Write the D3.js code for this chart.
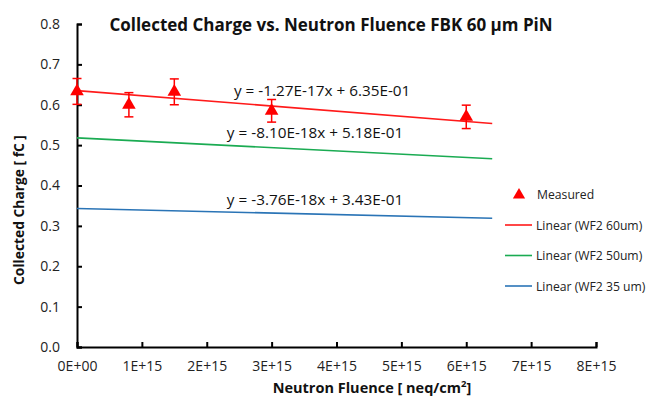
<html>
  <head>
    <meta charset="utf-8">
    <script src="https://cdn.jsdelivr.net/npm/d3@7"></script>
    <style>
      body { margin: 0; background: #fff; }
      text { font-family: "Open Sans", "Liberation Sans", sans-serif; }
    </style>
  </head>
  <body>
    <script>
      var w = 654;
      var h = 401;

      // medidas
      var fluence = [0, 0.8e15, 1.5e15, 3e15, 6e15];
      var charge = [0.633, 0.600, 0.632, 0.585, 0.570];
      var chargeErr = [0.032, 0.030, 0.032, 0.028, 0.029];

      // ajustes lineares
      var fitNames = ["Linear (WF2 60um)", "Linear (WF2 50um)", "Linear (WF2 35 um)"];
      var fitSlope = [-1.27e-17, -8.10e-18, -3.76e-18];
      var fitIntercept = [0.635, 0.518, 0.343];
      var fitLabels = ["y = -1.27E-17x + 6.35E-01", "y = -8.10E-18x + 5.18E-01", "y = -3.76E-18x + 3.43E-01"];
      var fitColors = ["#ff1a1a", "#1aab52", "#2a74b6"];
      var fitEnd = 6.4e15;

      var xTicks = [0, 1e15, 2e15, 3e15, 4e15, 5e15, 6e15, 7e15, 8e15];
      var xTickLabels = ["0E+00", "1E+15", "2E+15", "3E+15", "4E+15", "5E+15", "6E+15", "7E+15", "8E+15"];
      var yTicks = [0, 0.1, 0.2, 0.3, 0.4, 0.5, 0.6, 0.7, 0.8];

      var x = d3.scaleLinear().domain([0, 8e15]).range([77, 596]);
      var y = d3.scaleLinear().domain([0, 0.8]).range([347, 24]);

      var svg = d3.select("body").append("svg")
                  .attr("width", w)
                  .attr("height", h);

      // eixos
      var xAxis = d3.axisBottom(x).tickValues(xTicks)
                    .tickFormat(function(d, i) { return xTickLabels[i]; })
                    .tickSizeInner(-5).tickSizeOuter(-5).tickPadding(14);
      var gx = svg.append("g").attr("transform", "translate(0," + y(0) + ")").call(xAxis);

      var yAxis = d3.axisLeft(y).tickValues(yTicks)
                    .tickFormat(d3.format(".1f"))
                    .tickSizeInner(-5).tickSizeOuter(-5).tickPadding(17);
      var gy = svg.append("g").attr("transform", "translate(" + x(0) + ",0)").call(yAxis);

      [gx, gy].forEach(function(g) {
        g.select(".domain").attr("stroke", "#000").attr("stroke-width", 2);
        g.selectAll(".tick line").attr("stroke", "#000").attr("stroke-width", 2);
        g.selectAll(".tick text").attr("font-size", 14).attr("fill", "#222")
         .style("font-family", "'Open Sans', sans-serif");
      });

      // linhas de tendencia
      var line = d3.line().x(function(d) { return x(d[0]); }).y(function(d) { return y(d[1]); });
      fitSlope.forEach(function(s, i) {
        svg.append("path")
           .attr("d", line([[0, fitIntercept[i]], [fitEnd, fitIntercept[i] + s * fitEnd]]))
           .attr("stroke", fitColors[i])
           .attr("stroke-width", 1.6)
           .attr("fill", "none");
      });

      // equacoes
      var labelPos = [[2.42e15, 0.622], [2.31e15, 0.518], [2.31e15, 0.352]];
      svg.selectAll("text.eq")
         .data(fitLabels)
         .enter()
         .append("text")
            .attr("class", "eq")
            .text(function(d) { return d; })
            .attr("x", function(d, i) { return x(labelPos[i][0]); })
            .attr("y", function(d, i) { return y(labelPos[i][1]); })
            .attr("font-size", 15.3)
            .attr("fill", "#111");

      // barras de erro
      var pts = fluence.map(function(f, i) { return {x: f, y: charge[i], e: chargeErr[i]}; });
      var eb = svg.selectAll("g.err").data(pts).enter().append("g")
                  .attr("stroke", "#ff0000").attr("stroke-width", 1.5);
      eb.append("line")
        .attr("x1", function(d) { return x(d.x); }).attr("x2", function(d) { return x(d.x); })
        .attr("y1", function(d) { return y(d.y - d.e); }).attr("y2", function(d) { return y(d.y + d.e); });
      eb.append("line")
        .attr("x1", function(d) { return x(d.x) - 4.5; }).attr("x2", function(d) { return x(d.x) + 4.5; })
        .attr("y1", function(d) { return y(d.y + d.e); }).attr("y2", function(d) { return y(d.y + d.e); });
      eb.append("line")
        .attr("x1", function(d) { return x(d.x) - 4.5; }).attr("x2", function(d) { return x(d.x) + 4.5; })
        .attr("y1", function(d) { return y(d.y - d.e); }).attr("y2", function(d) { return y(d.y - d.e); });

      // triangulos
      var tri = d3.symbol().type(d3.symbolTriangle).size(80);
      svg.selectAll("path.pt")
         .data(pts)
         .enter()
         .append("path")
            .attr("class", "pt")
            .attr("d", tri)
            .attr("transform", function(d) { return "translate(" + x(d.x) + "," + y(d.y) + ")"; })
            .attr("fill", "#ff0000");

      // legenda
      var lg = svg.append("g");
      lg.append("path").attr("d", d3.symbol().type(d3.symbolTriangle).size(65))
        .attr("transform", "translate(519,195)").attr("fill", "#ff0000");
      lg.append("text").text("Measured").attr("x", 537).attr("y", 199)
        .attr("font-size", 12.2).attr("fill", "#222");
      fitNames.forEach(function(n, i) {
        var ly = 225 + i * 30.5;
        lg.append("line").attr("x1", 505).attr("x2", 532).attr("y1", ly).attr("y2", ly)
          .attr("stroke", fitColors[i]).attr("stroke-width", 1.6);
        lg.append("text").text(n).attr("x", 536).attr("y", ly + 4.5)
          .attr("font-size", 12.2).attr("fill", "#222");
      });

      // titulos
      svg.append("text").text("Collected Charge vs. Neutron Fluence FBK 60 µm PiN")
         .attr("x", 331).attr("y", 31).attr("text-anchor", "middle")
         .attr("font-size", 17).attr("font-weight", "bold").attr("fill", "#111");
      var xt = svg.append("text")
         .attr("x", 372).attr("y", 393).attr("text-anchor", "middle")
         .attr("font-size", 14.5).attr("font-weight", "bold").attr("fill", "#111");
      xt.append("tspan").text("Neutron Fluence [ neq/cm");
      xt.append("tspan").text("2").attr("font-size", 9.5).attr("dy", -6);
      xt.append("tspan").text("]").attr("dy", 6);
      svg.append("text").text("Collected Charge [ fC ]")
         .attr("transform", "translate(24,210) rotate(-90)")
         .attr("text-anchor", "middle")
         .attr("font-size", 13.8).attr("font-weight", "bold").attr("fill", "#111");
    </script>
  </body>
</html>
